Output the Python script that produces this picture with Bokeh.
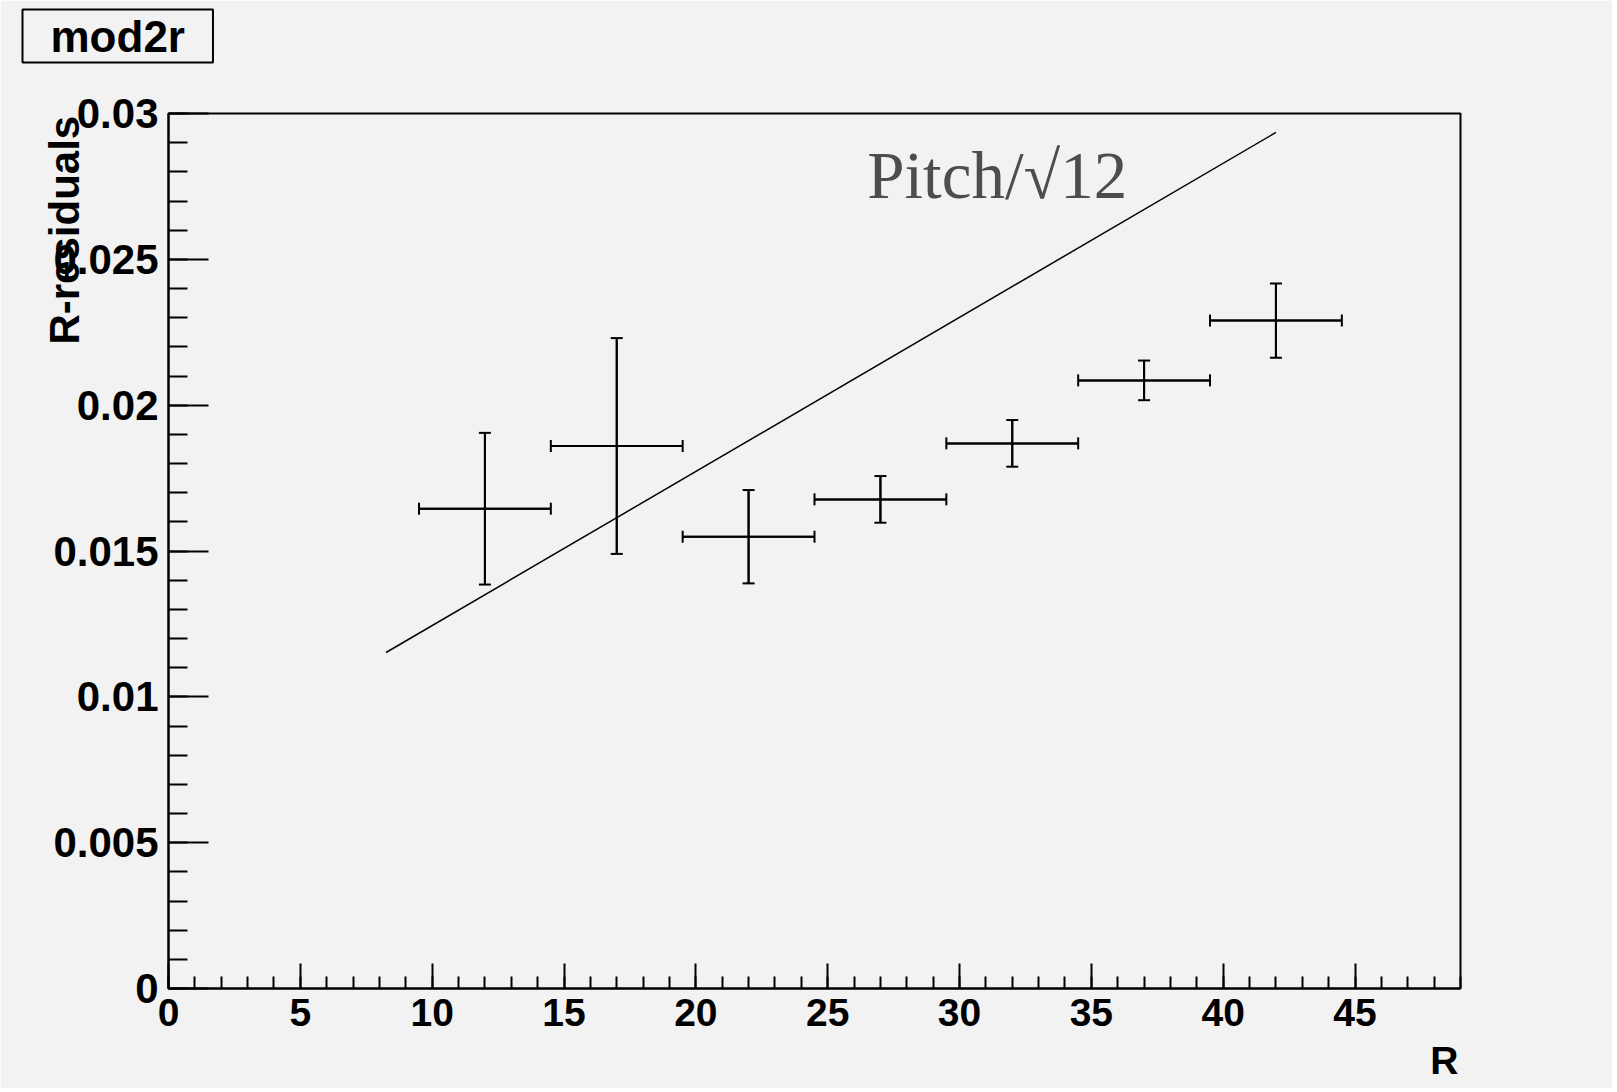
from bokeh.plotting import figure
from bokeh.models import (ColumnDataSource, Whisker, TeeHead, Label, SingleIntervalTicker,
                          CustomJSTickFormatter, Range1d, Title)
from bokeh.embed import file_html
from bokeh.resources import INLINE

# ---- data ----
r_center = [12, 17, 22, 27, 32, 37, 42]
r_halfwidth = [2.5, 2.5, 2.5, 2.5, 2.5, 2.5, 2.5]
residual = [0.01645, 0.0186, 0.01549, 0.01677, 0.01869, 0.02085, 0.0229]
residual_err = [0.0026, 0.0037, 0.0016, 0.0008, 0.0008, 0.00068, 0.00127]

pitch_r = [8.25, 42.0]
pitch_val = [0.01152, 0.02935]

title_text = "mod2r"
x_title = "R"
y_title = "R-residuals"
pitch_text = "Pitch/\u221a12"

BG = "#f2f2f2"
NBSP = "\u00a0"

src = ColumnDataSource(dict(
    x=r_center, y=residual,
    xl=[c - h for c, h in zip(r_center, r_halfwidth)],
    xu=[c + h for c, h in zip(r_center, r_halfwidth)],
    yl=[v - e for v, e in zip(residual, residual_err)],
    yu=[v + e for v, e in zip(residual, residual_err)],
))

p = figure(width=1612, height=1088, x_range=Range1d(0, 49), y_range=Range1d(0, 0.03),
           output_backend="svg", toolbar_location=None,
           min_border_left=168, min_border_right=152, min_border_top=113, min_border_bottom=100)
p.background_fill_color = BG
p.border_fill_color = BG
p.outline_line_color = "black"
p.outline_line_width = 2
p.grid.visible = False

# axes
xa = p.xaxis[0]
ya = p.yaxis[0]
xa.ticker = SingleIntervalTicker(interval=5, num_minor_ticks=5)
ya.ticker = SingleIntervalTicker(interval=0.005, num_minor_ticks=5)
ya.formatter = CustomJSTickFormatter(code="return String(+tick.toFixed(4));")
for ax in (xa, ya):
    ax.axis_line_width = 2
    ax.major_tick_line_width = 2
    ax.minor_tick_line_width = 2
    ax.major_tick_out = 0
    ax.minor_tick_out = 0
    ax.major_label_text_font = "Liberation Sans"
    ax.major_label_text_font_style = "bold"
    ax.major_label_text_color = "black"
    ax.axis_label_text_font = "Liberation Sans"
    ax.axis_label_text_font_style = "bold"
    ax.axis_label_text_color = "black"
    ax.axis_label_align = "end"
xa.major_tick_in = 25
xa.minor_tick_in = 12
ya.major_tick_in = 40
ya.minor_tick_in = 19
xa.major_label_text_font_size = "39px"
ya.major_label_text_font_size = "42px"
xa.major_label_standoff = 10
ya.major_label_standoff = 10

# axis titles sit at the far end of each axis (ROOT style); the label is centred on the
# axis end, so it is padded with non-breaking spaces to put its visible end there
xa.axis_label = x_title + NBSP * 3
xa.axis_label_text_font_size = "39px"
xa.axis_label_standoff = 10
ya.axis_label = y_title + NBSP * 20
ya.axis_label_text_font_size = "42px"
ya.axis_label_standoff = -38

# Pitch/sqrt(12) line
p.line(pitch_r, pitch_val, line_color="black", line_width=1.5)

# error bars
p.segment(x0="xl", y0="y", x1="xu", y1="y", source=src, line_color="black", line_width=2)
p.segment(x0="x", y0="yl", x1="x", y1="yu", source=src, line_color="black", line_width=2)
p.add_layout(Whisker(source=src, base="x", lower="yl", upper="yu", dimension="height",
                     line_width=2, line_color="black",
                     upper_head=TeeHead(size=12, line_width=2, line_color="black"),
                     lower_head=TeeHead(size=12, line_width=2, line_color="black")))
p.add_layout(Whisker(source=src, base="y", lower="xl", upper="xu", dimension="width",
                     line_width=2, line_color="black",
                     upper_head=TeeHead(size=12, line_width=2, line_color="black"),
                     lower_head=TeeHead(size=12, line_width=2, line_color="black")))

# annotation text
p.add_layout(Label(x=26.5, y=0.0279, text=pitch_text, text_font="Liberation Serif",
                   text_font_size="67px", text_color="#4d4d4d", text_baseline="alphabetic"))

# spacer between frame and the title box
p.add_layout(Title(text=NBSP, text_font_size="10px", standoff=38), "above")

# title box (outermost panel)
p.title.text = title_text
p.title.align = "left"
p.title.offset = -146
p.title.standoff = 0
p.title.text_font = "Liberation Sans"
p.title.text_font_style = "bold"
p.title.text_font_size = "44px"
p.title.text_color = "black"
p.title.background_fill_color = BG
p.title.border_line_color = "black"
p.title.border_line_width = 2
p.title.padding = dict(left=28, right=28, top=2, bottom=2)

open("out.html", "w").write(file_html(p, INLINE))
